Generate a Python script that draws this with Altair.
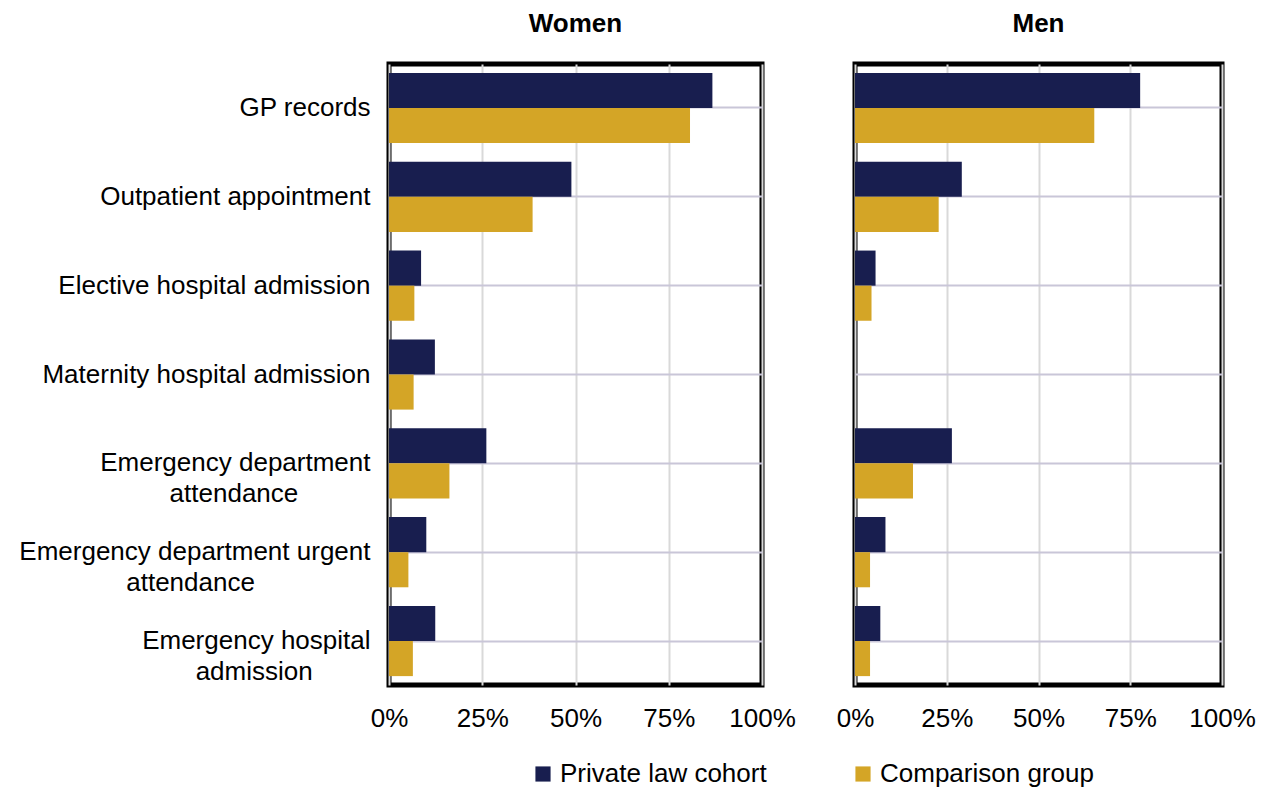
import altair as alt
import pandas as pd

categories = [
    "GP records",
    "Outpatient appointment",
    "Elective hospital admission",
    "Maternity hospital admission",
    "Emergency department attendance",
    "Emergency department urgent attendance",
    "Emergency hospital admission",
]
series = ["Private law cohort", "Comparison group"]

women_cohort = [86.7, 48.9, 8.6, 12.3, 26.1, 10.0, 12.4]
women_comparison = [80.7, 38.5, 6.8, 6.6, 16.2, 5.2, 6.4]
men_cohort = [77.7, 29.1, 5.6, None, 26.4, 8.3, 6.9]
men_comparison = [65.2, 22.8, 4.5, None, 15.8, 4.1, 4.1]

x_ticks = [0, 25, 50, 75, 100]

NB = "\u00a0"
WJ = "\u2060"
label_lines = {
    "Emergency department attendance": ["Emergency department", "attendance" + NB * 10 + WJ],
    "Emergency department urgent attendance": ["Emergency department urgent", "attendance" + NB * 16 + WJ],
    "Emergency hospital admission": ["Emergency hospital", "admission" + NB * 8 + WJ],
}

def js_str(s):
    return "'" + s.replace("'", "\\'") + "'"

label_expr = "datum.label"
for k, lines in label_lines.items():
    arr = "[" + ",".join(js_str(l) for l in lines) + "]"
    label_expr = f"datum.label == {js_str(k)} ? {arr} : ({label_expr})"


def make_df(cohort, comparison):
    rows = []
    for c, a, b in zip(categories, cohort, comparison):
        rows.append({"category": c, "series": series[0], "value": a})
        rows.append({"category": c, "series": series[1], "value": b})
    return pd.DataFrame(rows)


NAVY = "#181e4f"
GOLD = "#d4a526"
FONT = "Liberation Sans"

color = alt.Color(
    "series:N",
    scale=alt.Scale(domain=series, range=[NAVY, GOLD]),
    legend=alt.Legend(
        title=None,
        orient="none",
        direction="horizontal",
        legendX=141,
        legendY=697,
        symbolType="square",
        symbolSize=230,
        symbolStrokeWidth=0,
        labelFontSize=26,
        labelFont=FONT,
        labelColor="#000000",
        labelLimit=500,
        labelOffset=4,
        columnPadding=83,
    ),
)


def panel(df, title, width, show_labels):
    y_axis = alt.Axis(
        title=None,
        labels=show_labels,
        labelExpr=label_expr,
        labelFontSize=26,
        labelFont=FONT,
        labelColor="#000000",
        labelLimit=500,
        labelLineHeight=31,
        labelPadding=19,
        ticks=False,
        domain=False,
        grid=True,
        gridColor="#c9c6d8",
        gridWidth=2,
    )
    x_axis = alt.Axis(
        title=None,
        values=x_ticks,
        labelExpr="datum.value + '%'",
        labelFontSize=26,
        labelFont=FONT,
        labelColor="#000000",
        labelPadding=20,
        labelFlush=False,
        labelOverlap=False,
        ticks=False,
        domain=False,
        grid=True,
        gridColor="#d9d9d9",
        gridWidth=2,
    )
    return (
        alt.Chart(df, title=alt.Title(title, fontSize=26, fontWeight="bold", font=FONT, offset=27, color="#000000"))
        .mark_bar()
        .encode(
            x=alt.X("value:Q", scale=alt.Scale(domain=[0, 100], nice=False), axis=x_axis),
            y=alt.Y(
                "category:N",
                sort=categories,
                scale=alt.Scale(domain=categories, paddingInner=0.21, paddingOuter=0.1),
                axis=y_axis,
            ),
            yOffset=alt.YOffset("series:N", sort=series, scale=alt.Scale(domain=series, paddingInner=0, paddingOuter=0)),
            color=color,
        )
        .properties(width=width, height=621)
    )


women = panel(make_df(women_cohort, women_comparison), "Women", 373, True)
men = panel(make_df(men_cohort, men_comparison), "Men", 367, False)

chart = (
    alt.hconcat(women, men, spacing=35)
    .configure_view(stroke="#000000", strokeWidth=5)
    .properties(padding={"left": 8, "top": 0, "right": 0, "bottom": 0})
)

chart.save("out.html", embed_options={"renderer": "svg", "actions": False})
